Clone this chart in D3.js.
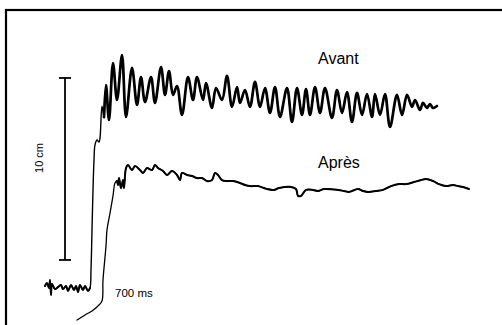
<!DOCTYPE html>
<html>
<head>
<meta charset="utf-8">
<script src="https://cdn.jsdelivr.net/npm/d3@7"></script>
<style>
  html, body { margin: 0; padding: 0; background: #fff; }
  svg { display: block; }
  text { font-family: "Liberation Sans", Arial, sans-serif; fill: #000; }
</style>
</head>
<body>
<div id="chart"></div>
<script>
// time in ms, displacement in mm
const avantT = [0, 10, 20, 25, 30, 35, 50, 65, 80, 90, 105, 115, 130, 145, 155, 165, 175, 190, 200, 215, 225,
  230, 235, 240, 245, 250, 260, 270, 275, 285, 295,
  305, 320, 340, 360, 385, 405, 435, 460, 480, 500, 530, 550, 580, 600, 620, 640, 660, 685,
  715, 740, 760, 790, 805, 835, 855, 885, 910, 935, 960, 975, 1000, 1025, 1050, 1075, 1100, 1125,
  1150, 1175, 1210, 1235, 1260, 1285, 1305, 1325, 1350, 1375, 1400, 1435, 1460, 1485, 1510, 1535,
  1560, 1585, 1610, 1635, 1650, 1675, 1700, 1725, 1760, 1785, 1810, 1835, 1850, 1875, 1890, 1910,
  1925, 1940, 1960]
const avantMm = [2.2, 3.8, 1.1, 5.5, -2.7, 3.3, 0.5, 1.6, 2.7, 0.5, 2.2, -0.5, 2.7, 0, 2.2, -1.1, 2.7, 0, 2.2, -0.5, 1.1,
  11.0, 33.0, 55.0, 71.4, 79.7, 82.4, 81.3, 83.5, 101.0, 95.0,
  112.6, 93.4, 124.7, 104.4, 129.1, 95.1, 122.0, 101.7, 117.0, 103.3, 117.0, 102.8, 122.5, 107.2, 120.3, 107.2, 112.1, 96.2,
  117.0, 104.4, 117.0, 104.4, 113.7, 100.0, 111.0, 104.4, 117.6, 100.6, 111.5, 102.8, 109.9, 100.6, 114.3, 100.6, 111.0, 97.3,
  111.5, 95.1, 111.0, 92.3, 111.0, 96.2, 110.4, 96.2, 111.5, 97.3, 111.0, 94.5, 109.9, 97.3, 108.8, 92.3,
  108.3, 96.2, 107.7, 95.1, 107.7, 96.2, 107.7, 89.6, 107.2, 96.2, 107.2, 100.6, 104.4, 98.9, 102.8, 100.0,
  102.2, 100.0, 101.1]

const apresT = [160, 200, 235, 265, 285, 290, 305, 310, 325, 340, 350, 360, 365, 370, 380, 390, 395, 405, 415,
  435, 450, 475, 490, 510, 535, 550, 565, 590, 610, 635, 660, 675, 685, 710, 735, 760, 785, 810, 835,
  850, 865, 885, 910, 940, 975, 1000, 1025, 1065, 1095, 1145, 1170, 1230, 1255, 1265, 1280, 1305, 1340,
  1365, 1395, 1465, 1495, 1520, 1565, 1590, 1615, 1655, 1690, 1730, 1770, 1805, 1845, 1880, 1905, 1940,
  1970, 2005, 2040, 2065, 2090, 2120]
const apresMm = [-16.5, -13.7, -11.5, -8.8, -6.0, 5.5, 24.2, 33.0, 42.3, 51.7, 58.8, 59.9, 57.7, 61.5, 56.0, 60.4, 56.0, 67.0, 68.7,
  65.9, 68.1, 65.9, 64.3, 67.0, 65.9, 68.7, 67.0, 65.4, 63.2, 65.4, 63.2, 60.4, 64.3, 63.2, 62.6, 61.5, 61.5, 59.9, 60.4,
  64.3, 63.2, 60.4, 59.9, 59.9, 58.8, 57.7, 57.1, 57.1, 56.0, 55.0, 56.0, 56.6, 55.5, 51.7, 51.7, 55.0, 55.0,
  54.4, 55.5, 55.0, 54.4, 53.9, 55.5, 54.4, 53.9, 54.4, 55.0, 57.1, 58.2, 58.2, 59.3, 60.4, 61.0, 59.9,
  58.2, 57.1, 57.7, 57.1, 56.6, 55.5]

const seriesLabels = ['Avant', 'Après']
const scaleBar = { t: 100, from: 16.5, length: 100, label: '10 cm' }
const timeLabel = '700 ms'

const width = 502
const height = 325

const avant = avantT.map((t, i) => ({ t, v: avantMm[i] }))
const apres = apresT.map((t, i) => ({ t, v: apresMm[i] }))

const svg = d3.select('#chart')
  .append('svg')
  .attr('width', width)
  .attr('height', height)

const x = d3.scaleLinear().domain([0, 2125]).range([45, 470])
const y = d3.scaleLinear().domain([0, 100]).range([290, 108])

// Frame (runs off the right and bottom edges)
svg.append('rect')
  .attr('x', 6)
  .attr('y', 10)
  .attr('width', 520)
  .attr('height', 340)
  .attr('fill', 'none')
  .attr('stroke', '#000')
  .attr('stroke-width', 2.2)

const line = d3.line()
  .x(d => x(d.t))
  .y(d => y(d.v))
  .curve(d3.curveCatmullRom.alpha(0.5))

function trace(data, width) {
  svg.append('path')
    .datum(data)
    .attr('d', line)
    .attr('fill', 'none')
    .attr('stroke', '#000')
    .attr('stroke-width', width)
    .attr('stroke-linejoin', 'round')
    .attr('stroke-linecap', 'round')
}

// Avant: thin rise, heavier baseline and oscillations
trace(avant, 1.4)
trace(avant.filter(d => d.t <= 225), 2)
trace(avant.filter(d => d.t >= 295), 2.7)

// Après: thin rise, heavier plateau
trace(apres, 1.3)
trace(apres.filter(d => d.t >= 360), 2)

// Scale bar
const sb = svg.append('g').attr('stroke', '#000').attr('stroke-width', 1.8)
sb.append('line')
  .attr('x1', x(scaleBar.t)).attr('x2', x(scaleBar.t))
  .attr('y1', y(scaleBar.from)).attr('y2', y(scaleBar.from + scaleBar.length))
;[scaleBar.from, scaleBar.from + scaleBar.length].forEach(v => {
  sb.append('line')
    .attr('x1', x(scaleBar.t) - 6).attr('x2', x(scaleBar.t) + 6)
    .attr('y1', y(v)).attr('y2', y(v))
})

svg.append('text')
  .attr('transform', 'translate(43,158) rotate(-90)')
  .attr('text-anchor', 'middle')
  .attr('font-size', '11px')
  .text(scaleBar.label)

// Labels
svg.append('text')
  .attr('x', 318).attr('y', 64)
  .attr('font-size', '16px')
  .text(seriesLabels[0])

svg.append('text')
  .attr('x', 318).attr('y', 168)
  .attr('font-size', '16px')
  .text(seriesLabels[1])

svg.append('text')
  .attr('x', 115).attr('y', 297)
  .attr('font-size', '11.5px')
  .text(timeLabel)
</script>
</body>
</html>
